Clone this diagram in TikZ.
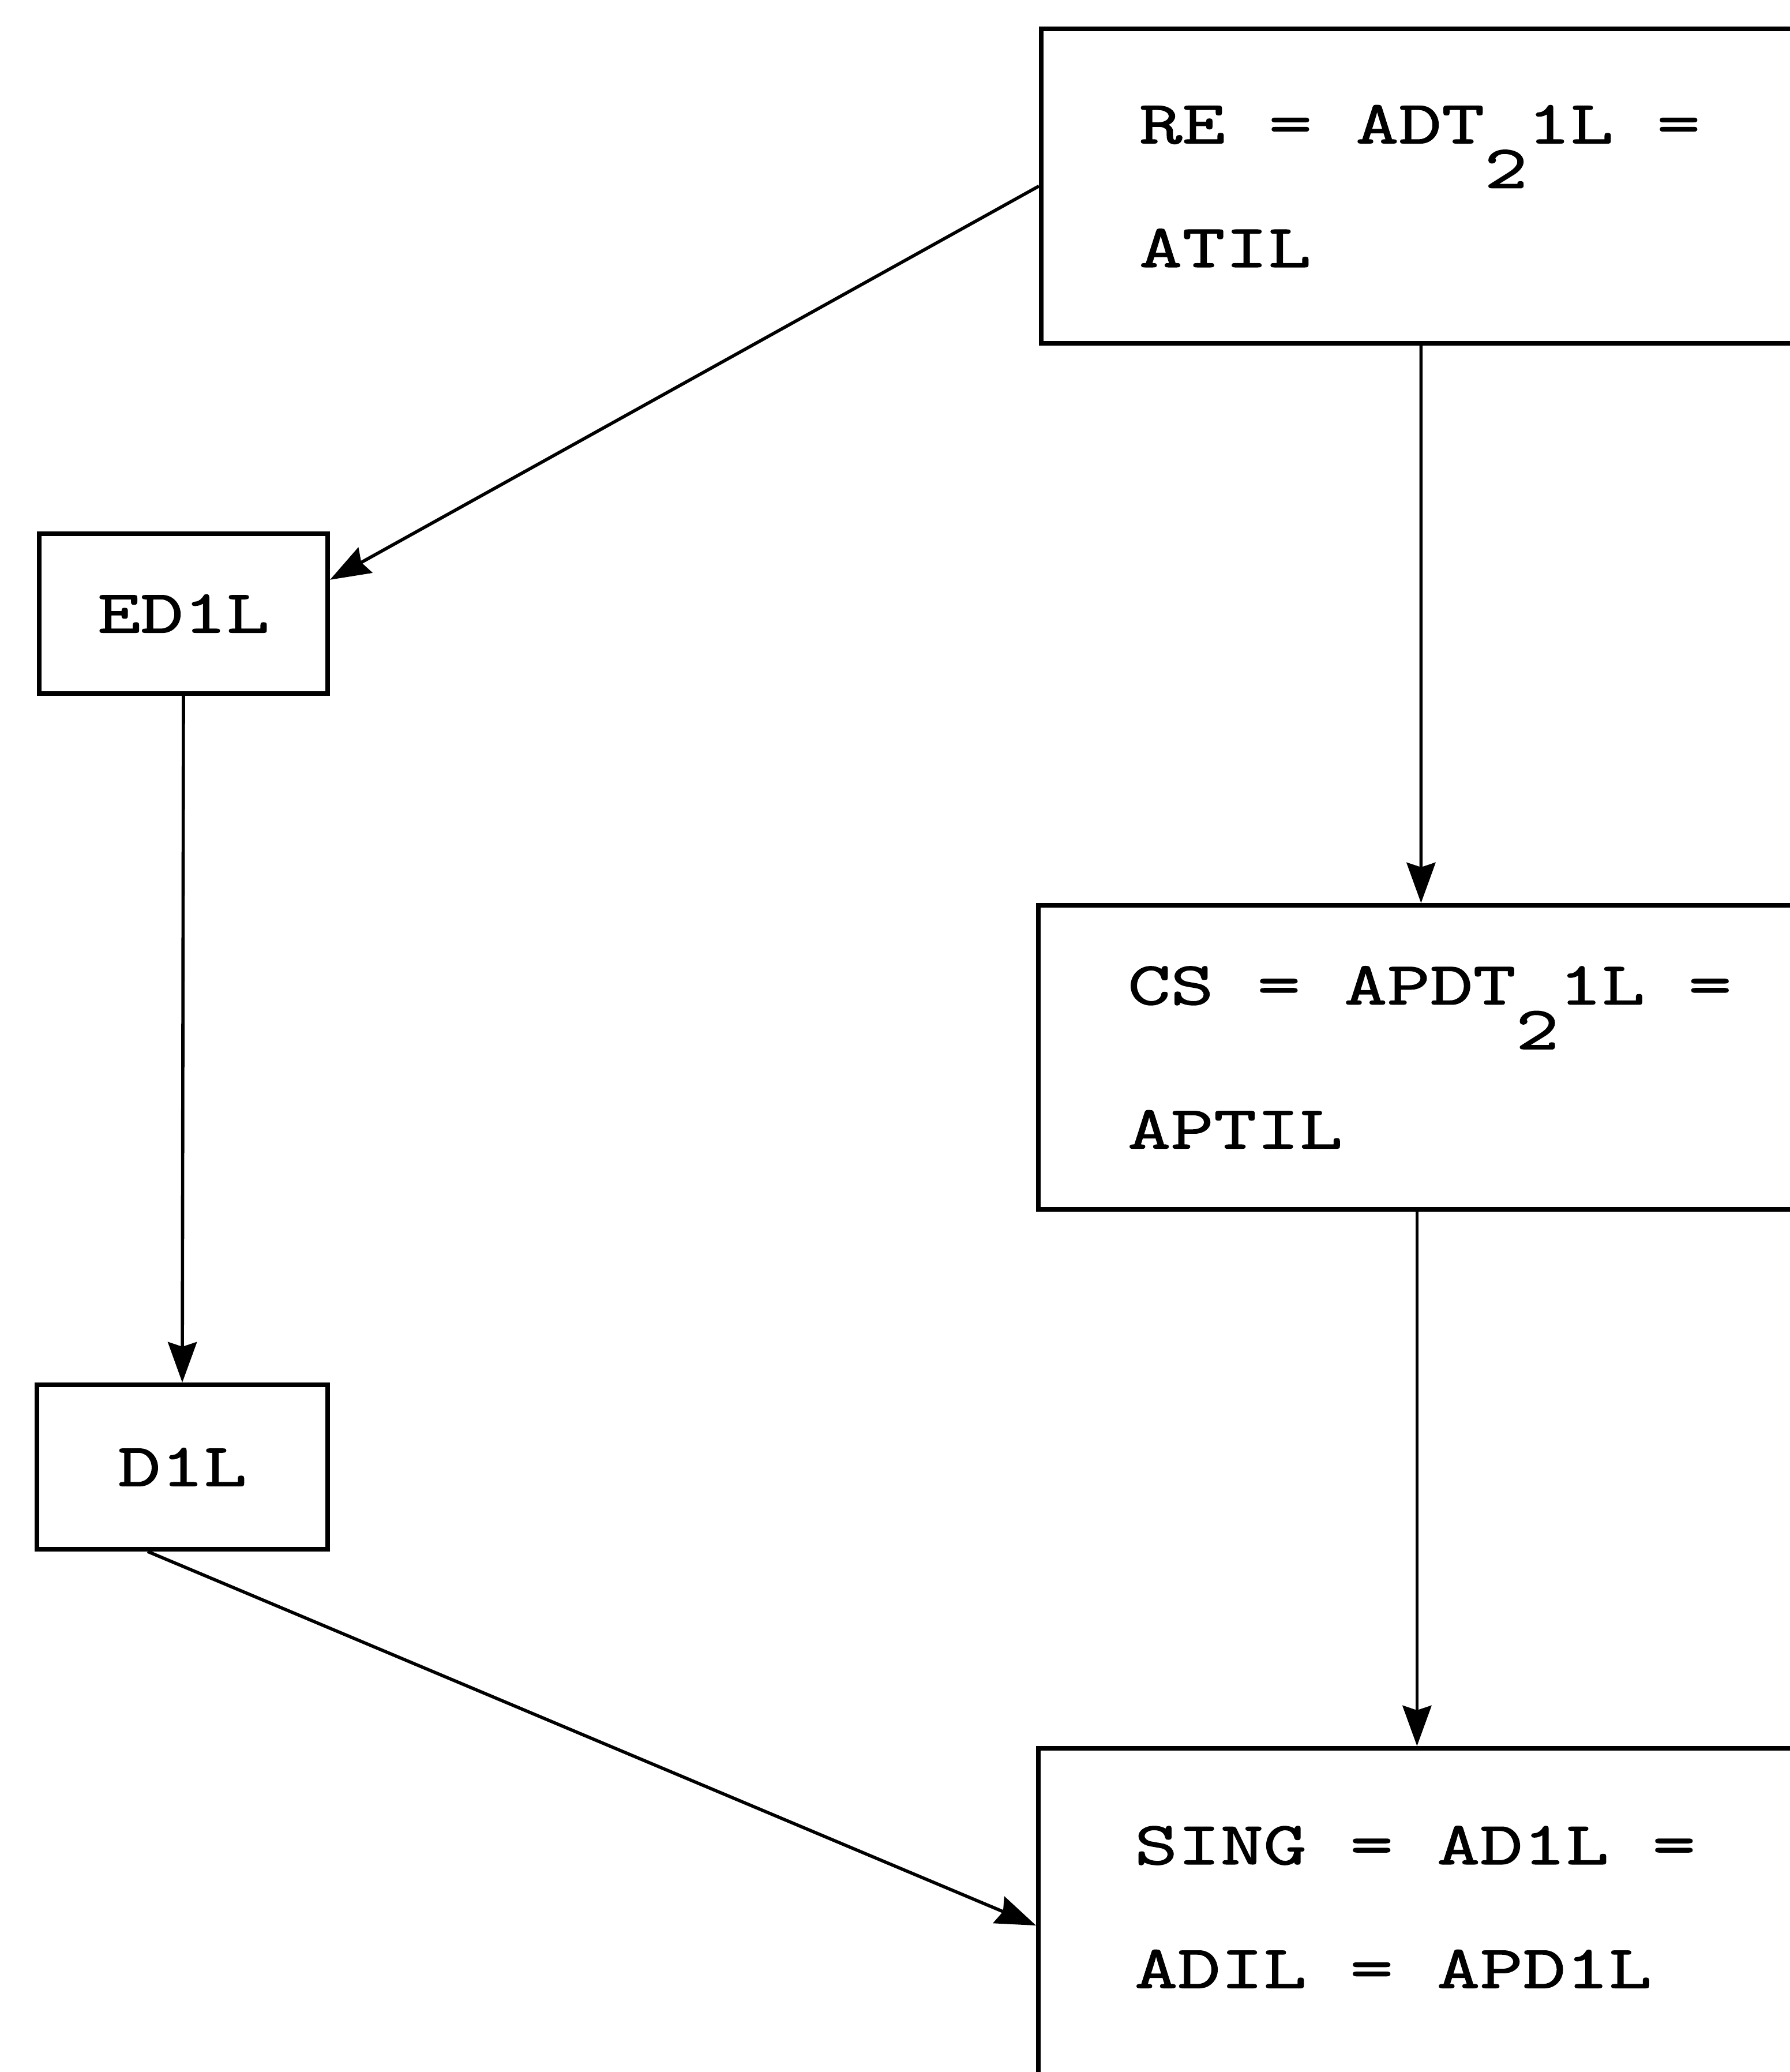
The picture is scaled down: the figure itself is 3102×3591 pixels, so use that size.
\documentclass[tikz,border=0pt]{standalone}
\usepackage{fontspec}
\usepackage{tikz}
\usetikzlibrary{arrows.meta}
\newfontfamily\courier[FakeStretch=1.37,FakeBold=1.5]{Latin Modern Mono}

\begin{document}
\begin{tikzpicture}[x=0.01cm,y=-0.01cm,
  box/.style={draw,line width=2.2pt,anchor=north west,font={\courier\fontsize{30}{61}\selectfont},
    execute at begin node={\spaceskip=21.6pt\relax}},
  wide/.style={box,text width=13cm,align=left,inner xsep=1.7cm},
  arr/.style={line width=1.6pt,-{Stealth[length=0.7cm,width=0.5cm,inset=0.08cm]}}]
\useasboundingbox (0,0) rectangle (3102,3591);

\node[wide,minimum height=5.45cm] (RE) at (1801,46) {RE = ADT\raisebox{-22pt}{2}1L =\\ATIL};
\node[wide,minimum height=5.27cm,inner xsep=1.55cm] (CS) at (1796,1565) {CS = APDT\raisebox{-22pt}{2}1L =\\[10pt]APTIL};
\node[wide,minimum height=6cm,inner xsep=1.67cm] (SING) at (1796,3026) {SING = AD1L =\\ADIL = APD1L\rule[-0.5cm]{0pt}{0pt}};
\node[box,minimum width=5cm,minimum height=2.77cm] (ED1L) at (64,921) {ED1L};
\node[box,minimum width=5.04cm,minimum height=2.85cm] (D1L) at (60,2396) {D1L};

\draw[arr] (RE.west) -- (ED1L.13);
\draw[arr] ([xshift=6.62cm]RE.south west) -- ([xshift=6.67cm]CS.north west);
\draw[arr] (ED1L.south) -- (D1L.north);
\draw[arr] ([xshift=6.6cm]CS.south west) -- ([xshift=6.6cm]SING.north west);
\draw[arr] ([xshift=-0.6cm]D1L.south) -- ([yshift=-0.07cm]SING.west);

\end{tikzpicture}
\end{document}
